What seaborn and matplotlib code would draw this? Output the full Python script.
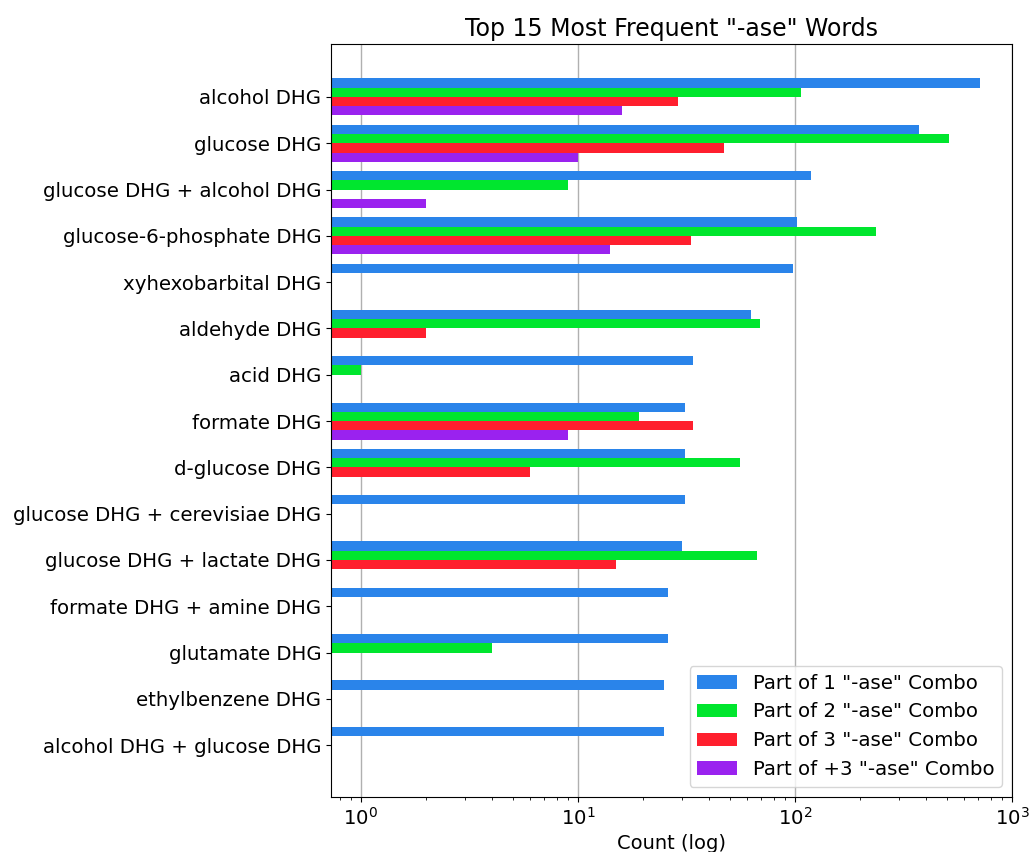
import matplotlib
matplotlib.use("Agg")
import matplotlib.pyplot as plt
import seaborn as sns
import pandas as pd

categories = [
    "alcohol DHG",
    "glucose DHG",
    "glucose DHG + alcohol DHG",
    "glucose-6-phosphate DHG",
    "xyhexobarbital DHG",
    "aldehyde DHG",
    "acid DHG",
    "formate DHG",
    "d-glucose DHG",
    "glucose DHG + cerevisiae DHG",
    "glucose DHG + lactate DHG",
    "formate DHG + amine DHG",
    "glutamate DHG",
    "ethylbenzene DHG",
    "alcohol DHG + glucose DHG",
]

series_names = [
    'Part of 1 "-ase" Combo',
    'Part of 2 "-ase" Combo',
    'Part of 3 "-ase" Combo',
    'Part of +3 "-ase" Combo',
]

# counts per category (None = no entry)
combo_1 = [713, 373, 118, 102, 98, 63, 34, 31, 31, 31, 30, 26, 26, 25, 25]
combo_2 = [107, 512, 9, 236, None, 69, 1, 19, 56, None, 67, None, 4, None, None]
combo_3 = [29, 47, None, 33, None, 2, None, 34, 6, None, 15, None, None, None, None]
combo_4 = [16, 10, 2, 14, None, None, None, 9, None, None, None, None, None, None, None]

palette = ["#2a84ea", "#00e62e", "#ff1f2e", "#9a22ef"]

rows = []
for name, vals in zip(series_names, [combo_1, combo_2, combo_3, combo_4]):
    for cat, v in zip(categories, vals):
        if v is not None:
            rows.append({"word": cat, "count": v, "combo": name})
df = pd.DataFrame(rows)

fig = plt.figure(figsize=(10.31, 8.52), dpi=100)
ax = fig.add_axes([0.321, 0.0646, 0.6606, 0.8838])
ax.set_xscale("log")

sns.barplot(
    data=df, x="count", y="word", hue="combo",
    order=categories, hue_order=series_names,
    palette=palette, saturation=1, orient="h",
    width=0.8, dodge=True, ax=ax,
)

ax.set_xlim(0.727, 1000)
ax.set_ylim(15.12, -1.145)
ax.set_axisbelow(True)
ax.xaxis.grid(True, which="major", color="#b0b0b0", linewidth=1)
ax.yaxis.grid(False)

ax.set_title('Top 15 Most Frequent "-ase" Words', fontsize=17)
ax.set_xlabel("Count (log)", fontsize=14)
ax.set_ylabel("")
ax.tick_params(axis="both", labelsize=14.2)

ax.legend(loc="lower right", fontsize=14.2, title=None)

fig.savefig("out.png", dpi=100)
